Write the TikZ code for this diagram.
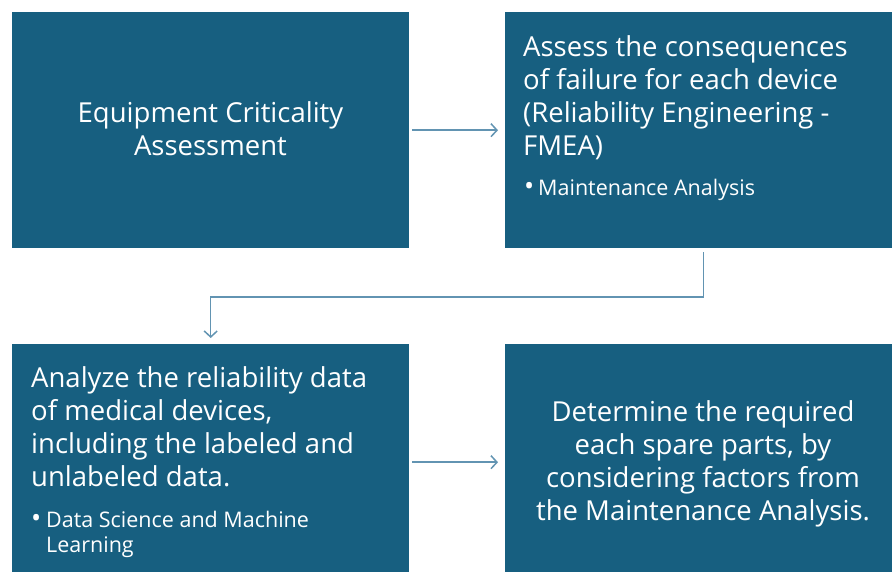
\documentclass[tikz,border=0pt]{standalone}
\usepackage{fontspec}
\setmainfont{Open Sans}
\usetikzlibrary{arrows.meta}
\definecolor{boxblue}{RGB}{23,95,128}
\definecolor{linkblue}{RGB}{98,148,178}
\tikzset{
	stepbox/.style={rectangle,fill=boxblue,draw=none,minimum width=397pt,minimum height=236pt,inner sep=0pt,anchor=north west},
	boxtext/.style={text=white,inner sep=0pt},
	link/.style={draw=linkblue,line width=1.5pt,-{Straight Barb[length=6pt,width=13pt]}}
}
\begin{document}
\begin{tikzpicture}[x=1pt,y=-1pt]
			\newcommand{\myfontmain}[1]{
				\fontsize{27.5}{33}\selectfont{#1}
			}\newcommand{\myfontbullet}[1]{
				\fontsize{21.5}{26}\selectfont{#1}
			}\newcommand{\myfontdot}[1]{
				\fontsize{27}{26}\selectfont{#1}
			}%Page frame
			\useasboundingbox (0,0) rectangle (892,571);
			\clip (0,0) rectangle (892,571);
			%The four boxes
			\node [stepbox] (assess) at (12,12) {};
			\node [stepbox] (conseq) at (505,12) {};
			\node [stepbox] (analyze) at (12,344) {};
			\node [stepbox] (determine) at (505,344) {};
			%Connectors between the boxes
			\coordinate (bend) at (703.5,297);
			\draw [link,shorten <=3pt,shorten >=7pt] (assess.east) -- (conseq.west);
			\draw [link,shorten <=4pt,shorten >=6pt] (conseq.south) |- (bend) -| (analyze.north);
			\draw [link,shorten <=3pt,shorten >=7pt] (analyze.east) -- (determine.west);
			%Text of the first box
			\coordinate (assess1) at (210.5,122);
			\coordinate (assess2) at (210.5,155);
			\node [boxtext,anchor=base] (assessline1) at (assess1) {\myfontmain{Equipment Criticality}};
			\node [boxtext,anchor=base] (assessline2) at (assess2) {\myfontmain{Assessment}};
			%Text of the second box
			\coordinate (conseq1) at (523,56);
			\coordinate (conseq2) at (523,89);
			\coordinate (conseq3) at (523,122);
			\coordinate (conseq4) at (523,155);
			\coordinate (conseqdot) at (524,195);
			\coordinate (conseq5) at (538,195);
			\node [boxtext,anchor=base west] (conseqline1) at (conseq1) {\myfontmain{Assess the consequences}};
			\node [boxtext,anchor=base west] (conseqline2) at (conseq2) {\myfontmain{of failure for each device}};
			\node [boxtext,anchor=base west] (conseqline3) at (conseq3) {\myfontmain{(Reliability Engineering -}};
			\node [boxtext,anchor=base west] (conseqline4) at (conseq4) {\myfontmain{FMEA)}};
			\node [boxtext,anchor=base west] (conseqbullet) at (conseqdot) {\myfontdot{\textbullet}};
			\node [boxtext,anchor=base west] (conseqline5) at (conseq5) {\myfontbullet{Maintenance Analysis}};
			%Text of the third box
			\coordinate (analyze1) at (31,387);
			\coordinate (analyze2) at (31,420);
			\coordinate (analyze3) at (31,453);
			\coordinate (analyze4) at (31,486);
			\coordinate (analyzedot) at (31,527);
			\coordinate (analyze5) at (46,527);
			\coordinate (analyze6) at (46,552);
			\node [boxtext,anchor=base west] (analyzeline1) at (analyze1) {\myfontmain{Analyze the reliability data}};
			\node [boxtext,anchor=base west] (analyzeline2) at (analyze2) {\myfontmain{of medical devices,}};
			\node [boxtext,anchor=base west] (analyzeline3) at (analyze3) {\myfontmain{including the labeled and}};
			\node [boxtext,anchor=base west] (analyzeline4) at (analyze4) {\myfontmain{unlabeled data.}};
			\node [boxtext,anchor=base west] (analyzebullet) at (analyzedot) {\myfontdot{\textbullet}};
			\node [boxtext,anchor=base west] (analyzeline5) at (analyze5) {\myfontbullet{Data Science and Machine}};
			\node [boxtext,anchor=base west] (analyzeline6) at (analyze6) {\myfontbullet{Learning}};
			%Text of the fourth box
			\coordinate (determine1) at (703,421);
			\coordinate (determine2) at (703,454);
			\coordinate (determine3) at (703,487);
			\coordinate (determine4) at (703,520);
			\node [boxtext,anchor=base] (determineline1) at (determine1) {\myfontmain{Determine the required}};
			\node [boxtext,anchor=base] (determineline2) at (determine2) {\myfontmain{each spare parts, by}};
			\node [boxtext,anchor=base] (determineline3) at (determine3) {\myfontmain{considering factors from}};
			\node [boxtext,anchor=base] (determineline4) at (determine4) {\myfontmain{the Maintenance Analysis.}};
\end{tikzpicture}
\end{document}
